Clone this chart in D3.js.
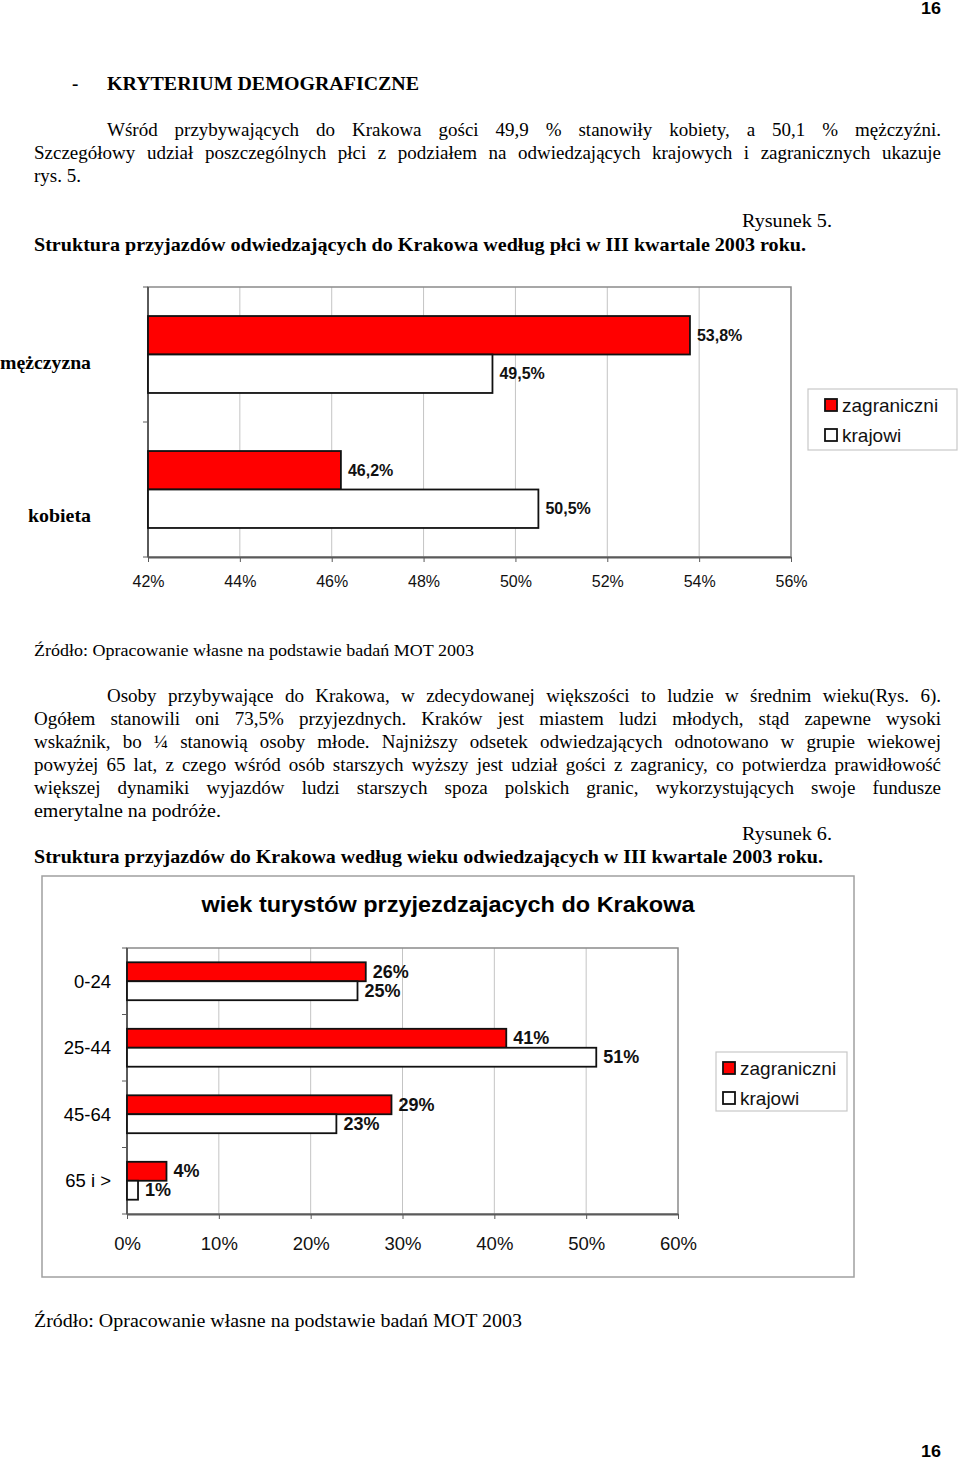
<!DOCTYPE html>
<html><head><meta charset="utf-8">
<script src="https://cdn.jsdelivr.net/npm/d3@7"></script>
<style>body{margin:0;background:#fff}svg{display:block}</style>
</head><body>
<svg id="page" width="960" height="1459"></svg>
<script>
// ---------- DATA ----------
const seriesNames = ["zagraniczni", "krajowi"];

const genderCategories = ["mężczyzna", "kobieta"];
const genderForeign = [0.538, 0.462];
const genderDomestic = [0.495, 0.505];
const genderTicks = [0.42, 0.44, 0.46, 0.48, 0.50, 0.52, 0.54, 0.56];

const ageCategories = ["0-24", "25-44", "45-64", "65 i >"];
const ageForeign = [0.260, 0.413, 0.288, 0.043];
const ageDomestic = [0.251, 0.511, 0.228, 0.012];
const ageTicks = [0, 0.1, 0.2, 0.3, 0.4, 0.5, 0.6];

const ageTitle = "wiek turystów przyjezdzajacych do Krakowa";

const para1 = [
  "Wśród przybywających do Krakowa gości 49,9 % stanowiły kobiety, a 50,1 % mężczyźni.",
  "Szczegółowy udział poszczególnych płci z podziałem na odwiedzających krajowych i zagranicznych ukazuje",
  "rys. 5."
];
const para2 = [
  "Osoby przybywające do Krakowa, w zdecydowanej większości to ludzie w średnim wieku(Rys. 6).",
  "Ogółem stanowili oni 73,5% przyjezdnych. Kraków jest miastem ludzi młodych, stąd zapewne wysoki",
  "wskaźnik, bo ¼ stanowią osoby młode. Najniższy odsetek odwiedzających odnotowano w grupie wiekowej",
  "powyżej 65 lat, z czego wśród osób starszych wyższy jest udział gości z zagranicy, co potwierdza prawidłowość",
  "większej dynamiki wyjazdów ludzi starszych spoza polskich granic, wykorzystujących swoje fundusze",
  "emerytalne na podróże."
];

// ---------- HELPERS ----------
const svg = d3.select("#page");
const SERIF = "'Liberation Serif','Times New Roman',serif";
const SANS = "'Liberation Sans',Arial,sans-serif";
const plFmt = d3.formatLocale({decimal: ",", thousands: " ", grouping: [3], currency: ["", " zł"]});
const fmt1 = plFmt.format(".1%");
const fmt0 = plFmt.format(".0%");

function textLine(str, x, y, o = {}) {
  const t = svg.append("text")
    .attr("x", x).attr("y", y)
    .attr("dominant-baseline", "central")
    .attr("font-family", o.family || SERIF)
    .attr("font-size", o.size || 19)
    .attr("font-weight", o.bold ? "bold" : "normal")
    .attr("text-anchor", o.anchor || "start")
    .attr("fill", o.fill || "#000")
    .text(str);
  if (o.width) t.attr("textLength", o.width).attr("lengthAdjust", "spacingAndGlyphs");
  return t;
}

function justified(str, x0, x1, y, o = {}) {
  const size = o.size || 19;
  const words = str.split(" ");
  const nodes = words.map(w => textLine(w, 0, y, o));
  const widths = nodes.map(n => n.node().getComputedTextLength());
  const sum = d3.sum(widths);
  const avail = x1 - x0;
  const minGap = size * 0.22;
  let scale = 1;
  if (sum + minGap * (words.length - 1) > avail) scale = (avail - minGap * (words.length - 1)) / sum;
  const gap = (avail - sum * scale) / (words.length - 1);
  let x = x0;
  nodes.forEach((n, i) => {
    n.attr("x", x);
    if (scale < 1) n.attr("textLength", widths[i] * scale).attr("lengthAdjust", "spacingAndGlyphs");
    x += widths[i] * scale + gap;
  });
}

// ---------- PAGE TEXT ----------
textLine("16", 941, 8, {family: SANS, bold: true, size: 17, anchor: "end", width: 20});
textLine("-", 72, 83, {bold: true, size: 19});
textLine("KRYTERIUM DEMOGRAFICZNE", 107, 83, {bold: true, size: 19, width: 312});

justified(para1[0], 107, 941, 129);
justified(para1[1], 34, 941, 152);
textLine(para1[2], 34, 175);

textLine("Rysunek 5.", 832, 220, {anchor: "end", width: 90});
textLine("Struktura przyjazdów odwiedzających do Krakowa według płci w III kwartale 2003 roku.", 34, 244, {bold: true, width: 772});

textLine("Źródło: Opracowanie własne na podstawie badań MOT 2003", 34, 650, {size: 17, width: 440});

const p2y = [695, 718, 741, 764, 787, 810];
para2.forEach((l, i) => {
  if (i === 0) justified(l, 107, 941, p2y[i]);
  else if (i < para2.length - 1) justified(l, 34, 941, p2y[i]);
  else textLine(l, 34, p2y[i], {width: 187});
});

textLine("Rysunek 6.", 832, 833, {anchor: "end", width: 90});
textLine("Struktura przyjazdów do Krakowa według wieku odwiedzających w III kwartale 2003 roku.", 34, 856, {bold: true, width: 789});

textLine("Źródło: Opracowanie własne na podstawie badań MOT 2003", 34, 1320, {size: 19, width: 488});
textLine("16", 941, 1451, {family: SANS, bold: true, size: 17, anchor: "end", width: 20});

// ---------- GENERIC BAR CHART ----------
function barChart(cfg) {
  const g = svg.append("g");
  const [L, R, T, B] = [cfg.left, cfg.right, cfg.top, cfg.bottom];
  const x = d3.scaleLinear().domain(cfg.domain).range([L, R]);
  const y = d3.scaleBand().domain(cfg.categories).range([T, B]).paddingInner(0.43).paddingOuter(0.215);
  const s = d3.scaleBand().domain(seriesNames).range([0, y.bandwidth()]);
  const color = d3.scaleOrdinal().domain(seriesNames).range(["#ff0000", "#ffffff"]);

  // gridlines
  g.append("g").selectAll("line").data(cfg.ticks.slice(1, -1)).join("line")
    .attr("x1", d => x(d)).attr("x2", d => x(d)).attr("y1", T).attr("y2", B)
    .attr("stroke", "#c4c4c4").attr("stroke-width", 1);
  // plot border (top/right)
  g.append("rect").attr("x", L).attr("y", T).attr("width", R - L).attr("height", B - T)
    .attr("fill", "none").attr("stroke", "#8a8a8a").attr("stroke-width", 1.5);

  // bottom axis
  const ax = g.append("g").attr("transform", `translate(0,${B})`)
    .call(d3.axisBottom(x).tickValues(cfg.ticks).tickSize(5).tickSizeOuter(0).tickFormat(cfg.tickFormat));
  ax.select(".domain").attr("stroke", "#5a5a5a").attr("stroke-width", 2);
  ax.selectAll(".tick line").attr("stroke", "#5a5a5a");
  ax.selectAll(".tick text").attr("y", cfg.tickLabelOffset).attr("dy", "0.35em")
    .attr("font-family", SANS).attr("font-size", cfg.tickSize).attr("fill", "#111");

  // left axis line + band boundary ticks
  g.append("line").attr("x1", L).attr("x2", L).attr("y1", T).attr("y2", B)
    .attr("stroke", "#5a5a5a").attr("stroke-width", 2);
  const bounds = d3.range(cfg.categories.length + 1).map(i => T + i * y.step());
  g.append("g").selectAll("line").data(bounds).join("line")
    .attr("x1", L - 5).attr("x2", L).attr("y1", d => d).attr("y2", d => d)
    .attr("stroke", "#5a5a5a");

  // bars
  const rows = [];
  cfg.categories.forEach((c, i) => {
    rows.push({cat: c, ser: seriesNames[0], v: cfg.foreign[i]});
    rows.push({cat: c, ser: seriesNames[1], v: cfg.domestic[i]});
  });
  g.append("g").selectAll("rect").data(rows).join("rect")
    .attr("x", x(cfg.domain[0]))
    .attr("y", d => y(d.cat) + s(d.ser))
    .attr("width", d => x(d.v) - x(cfg.domain[0]))
    .attr("height", s.bandwidth())
    .attr("fill", d => color(d.ser))
    .attr("stroke", "#111").attr("stroke-width", 1.8);
  g.append("g").selectAll("text").data(rows).join("text")
    .attr("x", d => x(d.v) + 7)
    .attr("y", d => y(d.cat) + s(d.ser) + s.bandwidth() / 2)
    .attr("dominant-baseline", "central")
    .attr("font-family", SANS).attr("font-weight", "bold").attr("font-size", cfg.valueSize)
    .attr("fill", "#111")
    .text(d => cfg.valueFormat(d.v));

  // legend
  const lg = cfg.legend;
  g.append("rect").attr("x", lg.x).attr("y", lg.y).attr("width", lg.w).attr("height", lg.h)
    .attr("fill", "#fff").attr("stroke", "#c8c8c8").attr("stroke-width", 1.2);
  seriesNames.forEach((n, i) => {
    g.append("rect").attr("x", lg.x + lg.pad).attr("y", lg.y + 10 + i * 30).attr("width", 12).attr("height", 12)
      .attr("fill", color(n)).attr("stroke", "#111").attr("stroke-width", 1.8);
    g.append("text").attr("x", lg.x + lg.pad + 17).attr("y", lg.y + 16 + i * 30)
      .attr("dominant-baseline", "central").attr("font-family", SANS).attr("font-size", 19)
      .attr("fill", "#111").text(n);
  });
  return {x, y, g};
}

// ---------- CHART 1: gender ----------
const c1 = barChart({
  left: 148, right: 791, top: 287, bottom: 557,
  domain: [genderTicks[0], genderTicks[genderTicks.length - 1]],
  ticks: genderTicks, categories: genderCategories,
  foreign: genderForeign, domestic: genderDomestic,
  tickFormat: d3.format(".0%"), tickLabelOffset: 24, tickSize: 16,
  valueFormat: fmt1, valueSize: 16,
  legend: {x: 808, y: 389, w: 149, h: 61, pad: 17}
});
// category labels (serif bold, offset as in the original)
textLine(genderCategories[0], 91, c1.y(genderCategories[0]) + c1.y.bandwidth() / 2 + 8, {bold: true, anchor: "end", width: 91});
textLine(genderCategories[1], 91, c1.y(genderCategories[1]) + c1.y.bandwidth() / 2 + 26, {bold: true, anchor: "end", width: 63});

// ---------- CHART 2: age ----------
svg.append("rect").attr("x", 42).attr("y", 876).attr("width", 812).attr("height", 401)
  .attr("fill", "none").attr("stroke", "#a0a0a0").attr("stroke-width", 1.5);
textLine(ageTitle, 448, 904, {family: SANS, bold: true, size: 22.5, anchor: "middle", width: 493});

const c2 = barChart({
  left: 127, right: 678, top: 948, bottom: 1214,
  domain: [ageTicks[0], ageTicks[ageTicks.length - 1]],
  ticks: ageTicks, categories: ageCategories,
  foreign: ageForeign, domestic: ageDomestic,
  tickFormat: d3.format(".0%"), tickLabelOffset: 30, tickSize: 18.5,
  valueFormat: fmt0, valueSize: 18,
  legend: {x: 716, y: 1052, w: 131, h: 59, pad: 7}
});
ageCategories.forEach(c => {
  textLine(c, 111, c2.y(c) + c2.y.bandwidth() / 2, {family: SANS, size: 18.5, anchor: "end"});
});
</script>
</body></html>
